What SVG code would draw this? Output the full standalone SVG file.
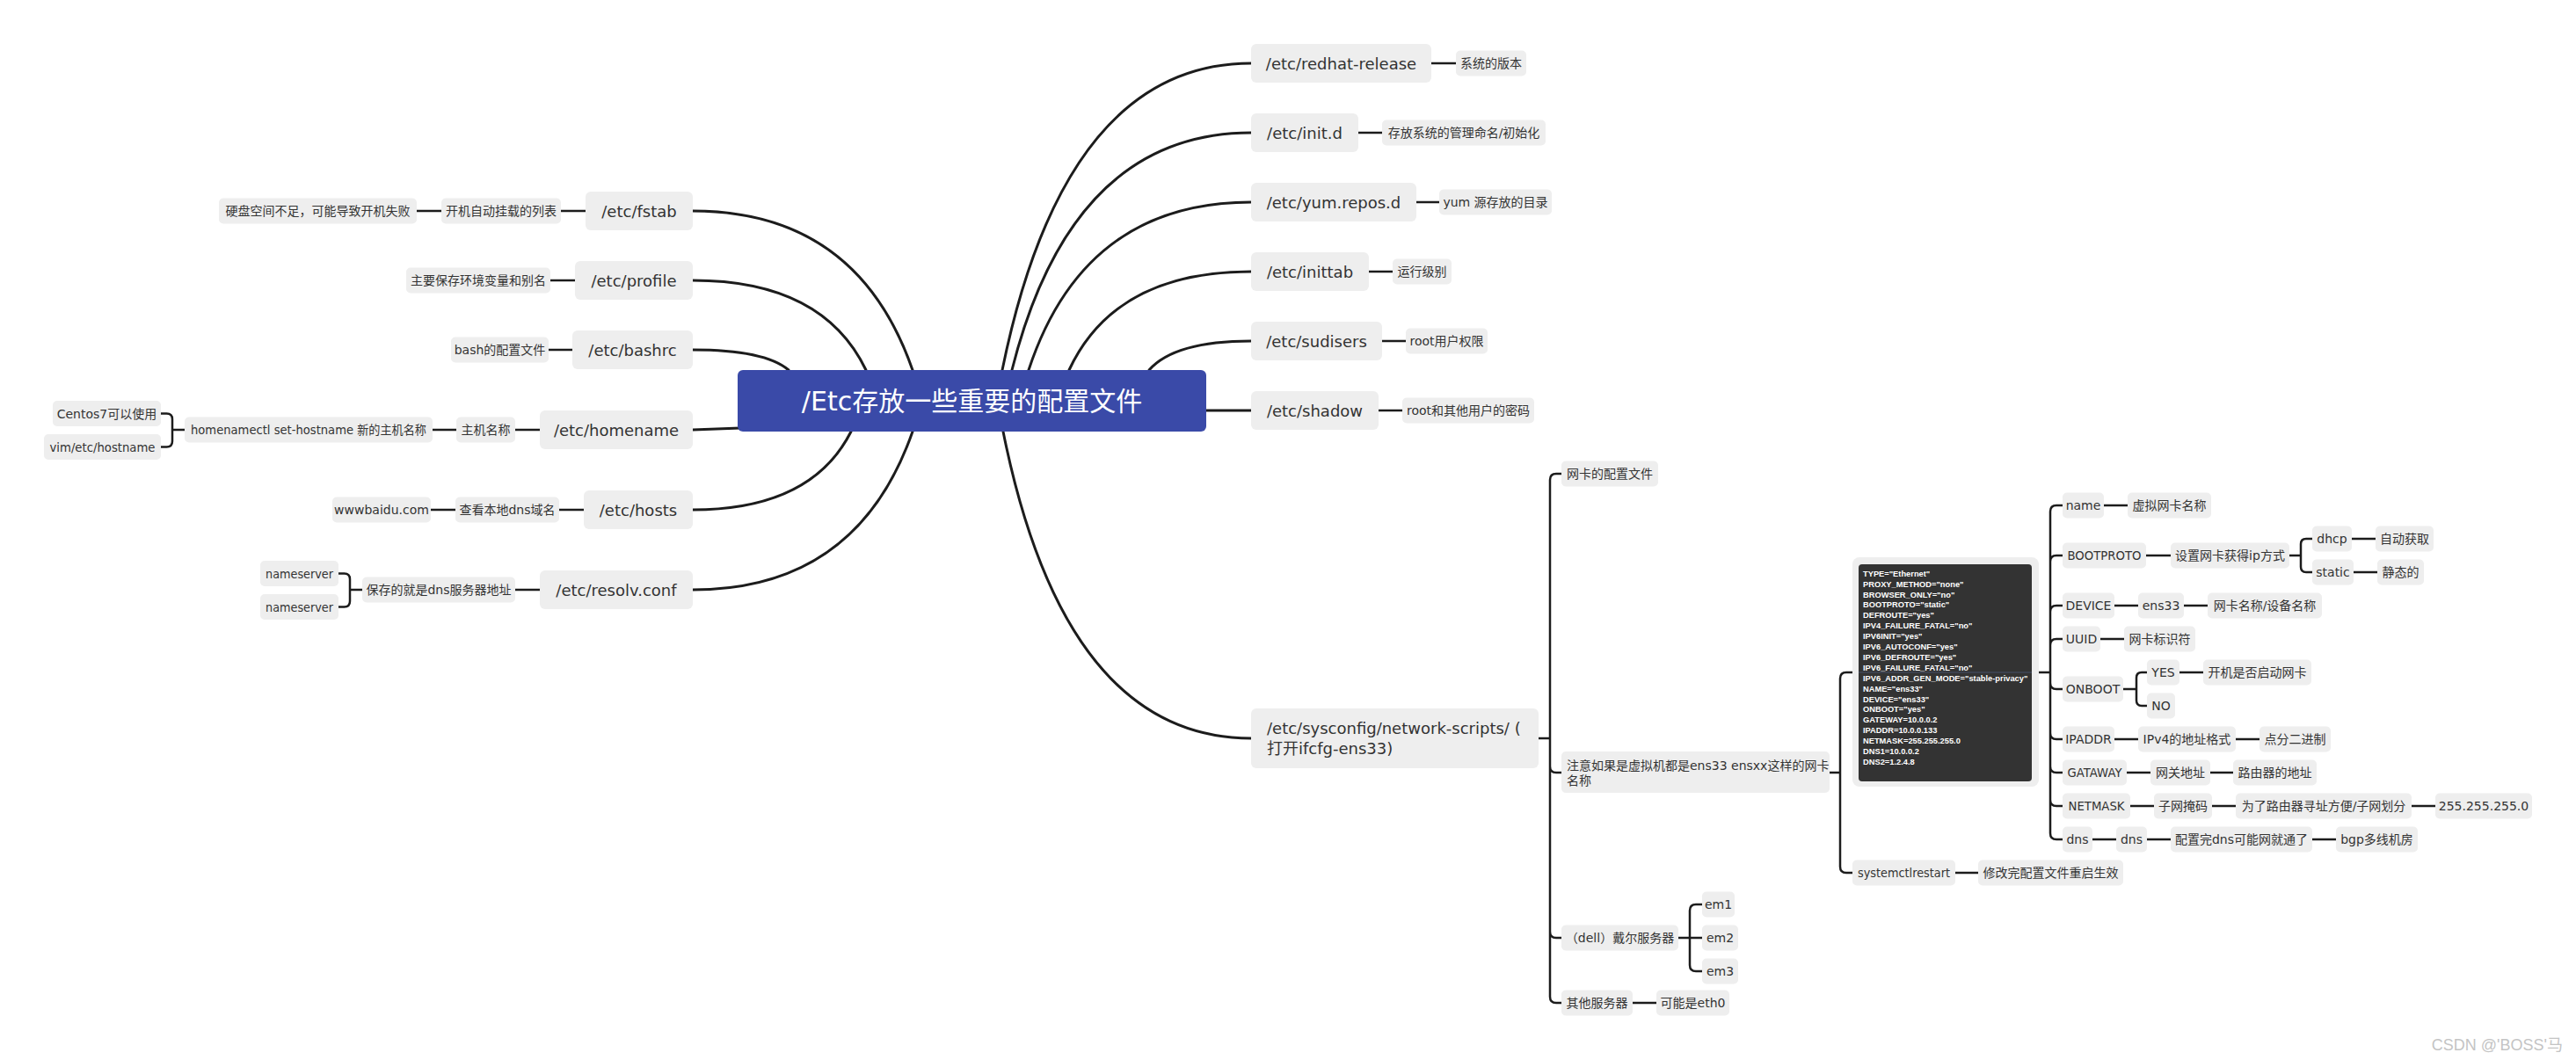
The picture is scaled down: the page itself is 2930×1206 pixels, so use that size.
<svg xmlns="http://www.w3.org/2000/svg" width="2930" height="1206" viewBox="0 0 2930 1206">
<style>
text{font-family:"DejaVu Sans","Noto Sans CJK SC",sans-serif;fill:#333}
.b1{fill:#eeeeee}
.b2{fill:#eeeeee}
.t1{font-size:18px;text-anchor:middle}
.t2{font-size:14px;text-anchor:middle}
.tl{font-size:18px}
.ts{font-size:14px}
.cv{fill:none;stroke:#1c1c1c;stroke-width:3;stroke-linecap:round}
.ln{fill:none;stroke:#1c1c1c;stroke-width:2.5}
.img{font-family:"Liberation Sans",Arial,sans-serif;font-size:9.3px;font-weight:bold;fill:#ffffff}
.wm{font-family:"Liberation Sans","Noto Sans CJK SC",sans-serif;font-size:18px;fill:#c4c4c4;text-anchor:end}
</style>
<rect width="2930" height="1206" fill="#ffffff"/>
<g id="connectors">
<path class="cv" d="M1140,421 Q1211,72 1423,72"/>
<path class="cv" d="M1151,421 Q1219,151 1423,151"/>
<path class="cv" d="M1170,421 Q1233,230 1423,230"/>
<path class="cv" d="M1216,421 Q1268,309 1423,309"/>
<path class="cv" d="M1307,421 Q1336,388 1423,388"/>
<path class="cv" d="M1370,467 L1423,467"/>
<path class="cv" d="M1141,491 Q1211,840 1423,840"/>
<path class="cv" d="M1038,421 Q975,240 788,240"/>
<path class="cv" d="M985,421 Q936,319 788,319"/>
<path class="cv" d="M897,421 Q870,398 788,398"/>
<path class="cv" d="M842,487 L788,489"/>
<path class="cv" d="M968,491 Q923,580 788,580"/>
<path class="cv" d="M1038,491 Q975,671 788,671"/>
<path class="ln" d="M1628,72 H1656 M1545,151 H1572 M1611,230 H1637 M1557,309 H1584 M1572,388 H1599 M1568,467 H1595"/>
<path class="ln" d="M666,240 H638 M502,240 H474 M654,319 H626 M651,398 H624 M614,489 H586 M519,489 H492 M664,580 H636 M518,580 H490 M614,671 H586"/>
<path class="ln" d="M210,489 H196 M196,489 V477 Q196,470.5 189.5,470.5 H183 M196,489 V502 Q196,508.5 189.5,508.5 H183"/>
<path class="ln" d="M412,671 H398 M398,671 V659 Q398,652.5 391.5,652.5 H385 M398,671 V684 Q398,690.5 391.5,690.5 H385"/>
<path class="ln" d="M1750,840 H1763 M1763,840 V546 Q1763,539 1770,539 H1776 M1763,840 V872 Q1763,879 1770,879 H1776 M1763,840 V1060 Q1763,1067 1770,1067 H1776 M1763,840 V1134 Q1763,1141 1770,1141 H1776"/>
<path class="ln" d="M1909,1067 H1936 M1922,1067 V1036 Q1922,1029 1929,1029 H1936 M1922,1067 V1098 Q1922,1105 1929,1105 H1936 M1857,1141 H1884"/>
<path class="ln" d="M2081,879 H2093 M2093,879 V772 Q2093,765 2100,765 H2107 M2093,879 V986 Q2093,993 2100,993 H2107 M2224,993 H2250"/>
<path class="ln" d="M2319,765 H2332 M2332,765 V582 Q2332,575 2339,575 H2346 M2332,765 V639 Q2332,632 2339,632 H2346 M2332,765 V696 Q2332,689 2339,689 H2346 M2332,765 V734 Q2332,727 2339,727 H2346 M2332,765 V777 Q2332,784 2339,784 H2346 M2332,765 V834 Q2332,841 2339,841 H2346 M2332,765 V872 Q2332,879 2339,879 H2346 M2332,765 V910 Q2332,917 2339,917 H2346 M2332,765 V948 Q2332,955 2339,955 H2346"/>
<path class="ln" d="M2393,575 H2420 M2441,632 H2469 M2604,632 H2617 M2617,632 V619 Q2617,613 2623,613 H2630 M2617,632 V645 Q2617,651 2623,651 H2630 M2675,613 H2702 M2677,651 H2704"/>
<path class="ln" d="M2405,689 H2432 M2484,689 H2511 M2389,727 H2416 M2415,784 H2430 M2430,784 V771 Q2430,765 2436,765 H2442 M2430,784 V797 Q2430,803 2436,803 H2442 M2479,765 H2506"/>
<path class="ln" d="M2405,841 H2432 M2543,841 H2570 M2419,879 H2446 M2514,879 H2540 M2423,917 H2450 M2516,917 H2543 M2743,917 H2770 M2380,955 H2407 M2442,955 H2469 M2630,955 H2657"/>
</g>
<g id="central">
<rect x="839" y="421" width="533" height="70" rx="6" fill="#3a4aa8"/>
<text x="1105.5" y="467" style="font-size:30px;text-anchor:middle;fill:#ffffff">/Etc存放一些重要的配置文件</text>
</g>
<g id="redhat"><rect class="b1" x="1423" y="50" width="205" height="44" rx="6"/><text class="t1" x="1525.5" y="78.5">/etc/redhat-release</text></g>
<g id="redhat-l"><rect class="b2" x="1656" y="57.5" width="80" height="29" rx="5"/><text class="t2" x="1696" y="77">系统的版本</text></g>
<g id="initd"><rect class="b1" x="1423" y="129" width="122" height="44" rx="6"/><text class="t1" x="1484" y="157.5">/etc/init.d</text></g>
<g id="initd-l"><rect class="b2" x="1572" y="136.5" width="186" height="29" rx="5"/><text class="t2" x="1665" y="156">存放系统的管理命名/初始化</text></g>
<g id="yum"><rect class="b1" x="1423" y="208" width="188" height="44" rx="6"/><text class="t1" x="1517" y="236.5">/etc/yum.repos.d</text></g>
<g id="yum-l"><rect class="b2" x="1637" y="215.5" width="128" height="29" rx="5"/><text class="t2" x="1701" y="235">yum 源存放的目录</text></g>
<g id="inittab"><rect class="b1" x="1423" y="287" width="134" height="44" rx="6"/><text class="t1" x="1490" y="315.5">/etc/inittab</text></g>
<g id="inittab-l"><rect class="b2" x="1584" y="294.5" width="67" height="29" rx="5"/><text class="t2" x="1617.5" y="314">运行级别</text></g>
<g id="sudisers"><rect class="b1" x="1423" y="366" width="149" height="44" rx="6"/><text class="t1" x="1497.5" y="394.5">/etc/sudisers</text></g>
<g id="sudisers-l"><rect class="b2" x="1599" y="373.5" width="93" height="29" rx="5"/><text class="t2" x="1645.5" y="393">root用户权限</text></g>
<g id="shadow"><rect class="b1" x="1423" y="445" width="145" height="44" rx="6"/><text class="t1" x="1495.5" y="473.5">/etc/shadow</text></g>
<g id="shadow-l"><rect class="b2" x="1595" y="452.5" width="150" height="29" rx="5"/><text class="t2" x="1670" y="472">root和其他用户的密码</text></g>
<g id="fstab"><rect class="b1" x="666" y="218" width="122" height="44" rx="6"/><text class="t1" x="727" y="246.5">/etc/fstab</text></g>
<g id="fstab-l1"><rect class="b2" x="502" y="225.5" width="136" height="29" rx="5"/><text class="t2" x="570" y="245">开机自动挂载的列表</text></g>
<g id="fstab-l2"><rect class="b2" x="249" y="225.5" width="225" height="29" rx="5"/><text class="t2" x="361.5" y="245">硬盘空间不足，可能导致开机失败</text></g>
<g id="profile"><rect class="b1" x="654" y="297" width="134" height="44" rx="6"/><text class="t1" x="721" y="325.5">/etc/profile</text></g>
<g id="profile-l"><rect class="b2" x="462" y="304.5" width="164" height="29" rx="5"/><text class="t2" x="544" y="324">主要保存环境变量和别名</text></g>
<g id="bashrc"><rect class="b1" x="651" y="376" width="137" height="44" rx="6"/><text class="t1" x="719.5" y="404.5">/etc/bashrc</text></g>
<g id="bashrc-l"><rect class="b2" x="513" y="383.5" width="111" height="29" rx="5"/><text class="t2" x="568.5" y="403">bash的配置文件</text></g>
<g id="homename"><rect class="b1" x="614" y="467" width="174" height="44" rx="6"/><text class="t1" x="701" y="495.5">/etc/homename</text></g>
<g id="homename-l1"><rect class="b2" x="519" y="474.5" width="67" height="29" rx="5"/><text class="t2" x="552.5" y="494">主机名称</text></g>
<g id="homename-l2"><rect class="b2" x="210" y="474.5" width="282" height="29" rx="5"/><text class="t2" x="351" y="494" textLength="268" lengthAdjust="spacingAndGlyphs">homenamectl set-hostname 新的主机名称</text></g>
<g id="homename-l3"><rect class="b2" x="60" y="456" width="123" height="29" rx="5"/><text class="t2" x="121.5" y="475.5">Centos7可以使用</text></g>
<g id="homename-l4"><rect class="b2" x="50" y="494" width="133" height="29" rx="5"/><text class="t2" x="116.5" y="513.5" textLength="120" lengthAdjust="spacingAndGlyphs">vim/etc/hostname</text></g>
<g id="hosts"><rect class="b1" x="664" y="558" width="124" height="44" rx="6"/><text class="t1" x="726" y="586.5">/etc/hosts</text></g>
<g id="hosts-l1"><rect class="b2" x="518" y="565.5" width="118" height="29" rx="5"/><text class="t2" x="577" y="585">查看本地dns域名</text></g>
<g id="hosts-l2"><rect class="b2" x="378" y="565.5" width="112" height="29" rx="5"/><text class="t2" x="434" y="585">wwwbaidu.com</text></g>
<g id="resolv"><rect class="b1" x="614" y="649" width="174" height="44" rx="6"/><text class="t1" x="701" y="677.5">/etc/resolv.conf</text></g>
<g id="resolv-l1"><rect class="b2" x="412" y="656.5" width="174" height="29" rx="5"/><text class="t2" x="499" y="676">保存的就是dns服务器地址</text></g>
<g id="resolv-l2"><rect class="b2" x="296" y="638" width="89" height="29" rx="5"/><text class="t2" x="340.5" y="657.5" textLength="77" lengthAdjust="spacingAndGlyphs">nameserver</text></g>
<g id="resolv-l3"><rect class="b2" x="296" y="676" width="89" height="29" rx="5"/><text class="t2" x="340.5" y="695.5" textLength="77" lengthAdjust="spacingAndGlyphs">nameserver</text></g>
<g id="network"><rect class="b1" x="1423" y="806" width="327" height="68" rx="6"/><text class="tl" x="1441" y="835">/etc/sysconfig/network-scripts/ (</text><text class="tl" x="1441" y="858">打开ifcfg-ens33)</text></g>
<g id="net-cfg"><rect class="b2" x="1776" y="524.5" width="110" height="29" rx="5"/><text class="t2" x="1831" y="544">网卡的配置文件</text></g>
<g id="net-note"><rect class="b2" x="1776" y="855" width="305" height="47" rx="5"/><text class="ts" x="1782" y="876">注意如果是虚拟机都是ens33 ensxx这样的网卡</text><text class="ts" x="1782" y="893">名称</text></g>
<g id="net-dell"><rect class="b2" x="1776" y="1052.5" width="133" height="29" rx="5"/><text class="t2" x="1842.5" y="1072">（dell）戴尔服务器</text></g>
<g id="em1"><rect class="b2" x="1936" y="1014.5" width="37" height="29" rx="5"/><text class="t2" x="1954.5" y="1034">em1</text></g>
<g id="em2"><rect class="b2" x="1936" y="1052.5" width="41" height="29" rx="5"/><text class="t2" x="1956.5" y="1072">em2</text></g>
<g id="em3"><rect class="b2" x="1936" y="1090.5" width="41" height="29" rx="5"/><text class="t2" x="1956.5" y="1110">em3</text></g>
<g id="net-other"><rect class="b2" x="1776" y="1126.5" width="81" height="29" rx="5"/><text class="t2" x="1816.5" y="1146">其他服务器</text></g>
<g id="net-eth0"><rect class="b2" x="1884" y="1126.5" width="83" height="29" rx="5"/><text class="t2" x="1925.5" y="1146">可能是eth0</text></g>
<g id="ifcfg-image">
<rect x="2107" y="634" width="212" height="261" rx="8" fill="#eeeeee"/>
<rect x="2114" y="642" width="197" height="247" rx="4" fill="#333333"/>
<line x1="2114" y1="765" x2="2311" y2="765" stroke="#4c5878" stroke-width="0.8"/>
<text class="img" x="2119" y="655.7">TYPE="Ethernet"</text>
<text class="img" x="2119" y="667.6">PROXY_METHOD="none"</text>
<text class="img" x="2119" y="679.5">BROWSER_ONLY="no"</text>
<text class="img" x="2119" y="691.4">BOOTPROTO="static"</text>
<text class="img" x="2119" y="703.3">DEFROUTE="yes"</text>
<text class="img" x="2119" y="715.2">IPV4_FAILURE_FATAL="no"</text>
<text class="img" x="2119" y="727.1">IPV6INIT="yes"</text>
<text class="img" x="2119" y="739">IPV6_AUTOCONF="yes"</text>
<text class="img" x="2119" y="750.9">IPV6_DEFROUTE="yes"</text>
<text class="img" x="2119" y="762.8">IPV6_FAILURE_FATAL="no"</text>
<text class="img" x="2119" y="774.7">IPV6_ADDR_GEN_MODE="stable-privacy"</text>
<text class="img" x="2119" y="786.6">NAME="ens33"</text>
<text class="img" x="2119" y="798.5">DEVICE="ens33"</text>
<text class="img" x="2119" y="810.4">ONBOOT="yes"</text>
<text class="img" x="2119" y="822.3">GATEWAY=10.0.0.2</text>
<text class="img" x="2119" y="834.2">IPADDR=10.0.0.133</text>
<text class="img" x="2119" y="846.1">NETMASK=255.255.255.0</text>
<text class="img" x="2119" y="858">DNS1=10.0.0.2</text>
<text class="img" x="2119" y="869.9">DNS2=1.2.4.8</text>
</g>
<g id="restart"><rect class="b2" x="2107" y="978.5" width="117" height="29" rx="5"/><text class="t2" x="2165.5" y="998" textLength="105" lengthAdjust="spacingAndGlyphs">systemctlrestart</text></g>
<g id="restart-l"><rect class="b2" x="2250" y="978.5" width="165" height="29" rx="5"/><text class="t2" x="2332.5" y="998">修改完配置文件重启生效</text></g>
<g id="name"><rect class="b2" x="2346" y="560.5" width="47" height="29" rx="5"/><text class="t2" x="2369.5" y="580">name</text></g>
<g id="name-l"><rect class="b2" x="2420" y="560.5" width="95" height="29" rx="5"/><text class="t2" x="2467.5" y="580">虚拟网卡名称</text></g>
<g id="bootproto"><rect class="b2" x="2346" y="617.5" width="95" height="29" rx="5"/><text class="t2" x="2393.5" y="637" textLength="84" lengthAdjust="spacingAndGlyphs">BOOTPROTO</text></g>
<g id="bootproto-l"><rect class="b2" x="2469" y="617.5" width="135" height="29" rx="5"/><text class="t2" x="2536.5" y="637">设置网卡获得ip方式</text></g>
<g id="dhcp"><rect class="b2" x="2630" y="598.5" width="45" height="29" rx="5"/><text class="t2" x="2652.5" y="618">dhcp</text></g>
<g id="dhcp-l"><rect class="b2" x="2702" y="598.5" width="66" height="29" rx="5"/><text class="t2" x="2735" y="618">自动获取</text></g>
<g id="static"><rect class="b2" x="2630" y="636.5" width="47" height="29" rx="5"/><text class="t2" x="2653.5" y="656">static</text></g>
<g id="static-l"><rect class="b2" x="2704" y="636.5" width="53" height="29" rx="5"/><text class="t2" x="2730.5" y="656">静态的</text></g>
<g id="device"><rect class="b2" x="2346" y="674.5" width="59" height="29" rx="5"/><text class="t2" x="2375.5" y="694">DEVICE</text></g>
<g id="device-l1"><rect class="b2" x="2432" y="674.5" width="52" height="29" rx="5"/><text class="t2" x="2458" y="694">ens33</text></g>
<g id="device-l2"><rect class="b2" x="2511" y="674.5" width="130" height="29" rx="5"/><text class="t2" x="2576" y="694">网卡名称/设备名称</text></g>
<g id="uuid"><rect class="b2" x="2346" y="712.5" width="43" height="29" rx="5"/><text class="t2" x="2367.5" y="732">UUID</text></g>
<g id="uuid-l"><rect class="b2" x="2416" y="712.5" width="81" height="29" rx="5"/><text class="t2" x="2456.5" y="732">网卡标识符</text></g>
<g id="onboot"><rect class="b2" x="2346" y="769.5" width="69" height="29" rx="5"/><text class="t2" x="2380.5" y="789">ONBOOT</text></g>
<g id="yes"><rect class="b2" x="2442" y="750.5" width="37" height="29" rx="5"/><text class="t2" x="2460.5" y="770">YES</text></g>
<g id="yes-l"><rect class="b2" x="2506" y="750.5" width="123" height="29" rx="5"/><text class="t2" x="2567.5" y="770">开机是否启动网卡</text></g>
<g id="no"><rect class="b2" x="2442" y="788.5" width="32" height="29" rx="5"/><text class="t2" x="2458" y="808">NO</text></g>
<g id="ipaddr"><rect class="b2" x="2346" y="826.5" width="59" height="29" rx="5"/><text class="t2" x="2375.5" y="846">IPADDR</text></g>
<g id="ipaddr-l1"><rect class="b2" x="2432" y="826.5" width="111" height="29" rx="5"/><text class="t2" x="2487.5" y="846">IPv4的地址格式</text></g>
<g id="ipaddr-l2"><rect class="b2" x="2570" y="826.5" width="81" height="29" rx="5"/><text class="t2" x="2610.5" y="846">点分二进制</text></g>
<g id="gataway"><rect class="b2" x="2346" y="864.5" width="73" height="29" rx="5"/><text class="t2" x="2382.5" y="884" textLength="62" lengthAdjust="spacingAndGlyphs">GATAWAY</text></g>
<g id="gataway-l1"><rect class="b2" x="2446" y="864.5" width="68" height="29" rx="5"/><text class="t2" x="2480" y="884">网关地址</text></g>
<g id="gataway-l2"><rect class="b2" x="2540" y="864.5" width="95" height="29" rx="5"/><text class="t2" x="2587.5" y="884">路由器的地址</text></g>
<g id="netmask"><rect class="b2" x="2346" y="902.5" width="77" height="29" rx="5"/><text class="t2" x="2384.5" y="922" textLength="64" lengthAdjust="spacingAndGlyphs">NETMASK</text></g>
<g id="netmask-l1"><rect class="b2" x="2450" y="902.5" width="66" height="29" rx="5"/><text class="t2" x="2483" y="922">子网掩码</text></g>
<g id="netmask-l2"><rect class="b2" x="2543" y="902.5" width="200" height="29" rx="5"/><text class="t2" x="2643" y="922">为了路由器寻址方便/子网划分</text></g>
<g id="netmask-l3"><rect class="b2" x="2770" y="902.5" width="110" height="29" rx="5"/><text class="t2" x="2825" y="922">255.255.255.0</text></g>
<g id="dns"><rect class="b2" x="2346" y="940.5" width="34" height="29" rx="5"/><text class="t2" x="2363" y="960">dns</text></g>
<g id="dns-l1"><rect class="b2" x="2407" y="940.5" width="35" height="29" rx="5"/><text class="t2" x="2424.5" y="960">dns</text></g>
<g id="dns-l2"><rect class="b2" x="2469" y="940.5" width="161" height="29" rx="5"/><text class="t2" x="2549.5" y="960">配置完dns可能网就通了</text></g>
<g id="dns-l3"><rect class="b2" x="2657" y="940.5" width="93" height="29" rx="5"/><text class="t2" x="2703.5" y="960">bgp多线机房</text></g>
<text class="wm" x="2915" y="1195">CSDN @'BOSS'马</text>
</svg>
